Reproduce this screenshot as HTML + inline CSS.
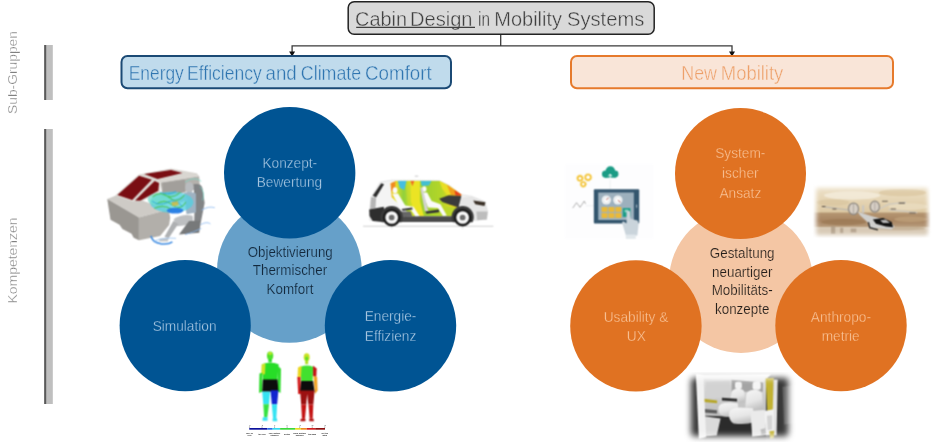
<!DOCTYPE html>
<html lang="de">
<head>
<meta charset="utf-8">
<title>Cabin Design in Mobility Systems</title>
<style>
html,body{margin:0;padding:0;background:#fff;}
body{width:936px;height:442px;overflow:hidden;font-family:"Liberation Sans",sans-serif;}
svg{display:block;position:absolute;left:0;top:0;}
text{font-family:"Liberation Sans",sans-serif;}
svg{opacity:0.999;}
</style>
</head>
<body>
<svg width="936" height="442" viewBox="0 0 936 442">
<defs>
<filter id="soft" x="-5%" y="-5%" width="110%" height="110%"><feGaussianBlur stdDeviation="0.45"/></filter>
<filter id="soft2" x="-5%" y="-5%" width="110%" height="110%"><feGaussianBlur stdDeviation="0.8"/></filter>
<filter id="b3" x="-5%" y="-5%" width="110%" height="110%" color-interpolation-filters="sRGB"><feConvolveMatrix order="3" kernelMatrix="1 2 1 2 4 2 1 2 1" divisor="16" edgeMode="none" preserveAlpha="false"/></filter>
<filter id="b4" x="-5%" y="-5%" width="110%" height="110%" color-interpolation-filters="sRGB"><feConvolveMatrix order="3" kernelMatrix="1 2 1 2 4 2 1 2 1" divisor="16" edgeMode="none" preserveAlpha="false"/><feConvolveMatrix order="3" kernelMatrix="1 2 1 2 4 2 1 2 1" divisor="16" edgeMode="none" preserveAlpha="false"/></filter>
</defs>
<rect width="936" height="442" fill="#ffffff"/>

<!-- side bars -->
<g id="bars">
<rect x="44.2" y="45" width="8.6" height="55" fill="#bfbfbf"/>
<rect x="44.2" y="45" width="2" height="55" fill="#5a5a5a"/>
<rect x="44.2" y="129" width="8.6" height="275" fill="#bfbfbf"/>
<rect x="44.2" y="129" width="2" height="275" fill="#5a5a5a"/>
</g>
<g id="sidelabels" fill="#808080" stroke="#ffffff" stroke-width="0.3" font-size="12.5">
<text transform="translate(17.2,114) rotate(-90)" textLength="83" lengthAdjust="spacingAndGlyphs">Sub-Gruppen</text>
<text transform="translate(17.2,303.5) rotate(-90)" textLength="86" lengthAdjust="spacingAndGlyphs">Kompetenzen</text>
</g>

<!-- connectors -->
<g id="connectors" stroke="#3a3a3a" stroke-width="1.3" fill="none">
<path d="M500.7 35 V45.8 M292.1 53 V45.8 H732 V53"/>
</g>
<path d="M289.1 51.4 h6 l-3 5 z M729 51.4 h6 l-3 5 z" fill="#111"/>

<!-- title -->
<rect x="348.2" y="1.7" width="306" height="32.6" rx="6" fill="#d9d9d9" stroke="#222" stroke-width="1.5"/>
<text x="355.05" y="25.7" font-size="20.5" fill="#3f3f3f" stroke="#d9d9d9" stroke-width="0.4" textLength="51.95" lengthAdjust="spacingAndGlyphs">Cabin</text>
<text x="410.05" y="25.7" font-size="20.5" fill="#3f3f3f" stroke="#d9d9d9" stroke-width="0.4" textLength="62.45" lengthAdjust="spacingAndGlyphs">Design</text>
<text x="478.05" y="25.7" font-size="20.5" fill="#3f3f3f" stroke="#d9d9d9" stroke-width="0.4" textLength="11.95" lengthAdjust="spacingAndGlyphs">in</text>
<text x="494.30" y="25.7" font-size="20.5" fill="#3f3f3f" stroke="#d9d9d9" stroke-width="0.4" textLength="67.70" lengthAdjust="spacingAndGlyphs">Mobility</text>
<text x="567.05" y="25.7" font-size="20.5" fill="#3f3f3f" stroke="#d9d9d9" stroke-width="0.4" textLength="77.20" lengthAdjust="spacingAndGlyphs">Systems</text>
<path d="M356.2 27.3 H475" stroke="#3f3f3f" stroke-width="1.2"/>

<!-- sub groups -->
<rect x="121.5" y="56" width="329.5" height="32.3" rx="6" fill="#c0dbec" stroke="#1b4a75" stroke-width="2"/>
<text x="128.80" y="79.5" font-size="20.3" fill="#2f75b0" stroke="#c0dbec" stroke-width="0.4" textLength="54.95" lengthAdjust="spacingAndGlyphs">Energy</text>
<text x="187.05" y="79.5" font-size="20.3" fill="#2f75b0" stroke="#c0dbec" stroke-width="0.4" textLength="74.70" lengthAdjust="spacingAndGlyphs">Efficiency</text>
<text x="265.55" y="79.5" font-size="20.3" fill="#2f75b0" stroke="#c0dbec" stroke-width="0.4" textLength="31.20" lengthAdjust="spacingAndGlyphs">and</text>
<text x="300.80" y="79.5" font-size="20.3" fill="#2f75b0" stroke="#c0dbec" stroke-width="0.4" textLength="60.45" lengthAdjust="spacingAndGlyphs">Climate</text>
<text x="365.05" y="79.5" font-size="20.3" fill="#2f75b0" stroke="#c0dbec" stroke-width="0.4" textLength="66.70" lengthAdjust="spacingAndGlyphs">Comfort</text>
<rect x="571" y="56" width="322" height="32.3" rx="6" fill="#f9e5d8" stroke="#e67a2c" stroke-width="2"/>
<text x="681.30" y="79.5" font-size="20.3" fill="#eda06a" stroke="#f9e5d8" stroke-width="0.4" textLength="35.70" lengthAdjust="spacingAndGlyphs">New</text>
<text x="720.80" y="79.5" font-size="20.3" fill="#eda06a" stroke="#f9e5d8" stroke-width="0.4" textLength="62.45" lengthAdjust="spacingAndGlyphs">Mobility</text>

<!-- left cluster -->
<g id="leftcluster">
<circle cx="289.4" cy="270.4" r="72.4" fill="#66a0c9"/>
<circle cx="289.7" cy="172.8" r="65.7" fill="#005493"/>
<circle cx="185.2" cy="325.6" r="65.6" fill="#005493"/>
<circle cx="390.5" cy="325.8" r="65.7" fill="#005493"/>
<g font-size="14.6" fill="#a9c8e2" stroke="#005493" stroke-width="0.3" text-anchor="middle">
<text transform="translate(289.8,167.6) scale(0.938,1)">Konzept-</text>
<text transform="translate(289.4,187.3) scale(0.938,1)">Bewertung</text>
<text transform="translate(184.6,330.9) scale(0.938,1)">Simulation</text>
<text transform="translate(390.5,321.2) scale(0.938,1)">Energie-</text>
<text transform="translate(390.5,340.8) scale(0.938,1)">Effizienz</text>
</g>
<g font-size="14.3" fill="#13283c" stroke="#66a0c9" stroke-width="0.2" text-anchor="middle">
<text transform="translate(290.2,257.1) scale(0.93,1)">Objektivierung</text>
<text transform="translate(290,275.4) scale(0.937,1)">Thermischer</text>
<text transform="translate(290,293.8) scale(0.937,1)">Komfort</text>
</g>
</g>

<!-- right cluster -->
<g id="rightcluster">
<circle cx="741" cy="281" r="72" fill="#f4c6a4"/>
<circle cx="740.5" cy="173.5" r="65.5" fill="#e07222"/>
<circle cx="635.9" cy="325.9" r="65.7" fill="#e07222"/>
<circle cx="841" cy="325.6" r="65.7" fill="#e07222"/>
<g font-size="14.6" fill="#f8c49a" stroke="#e07222" stroke-width="0.3" text-anchor="middle">
<text transform="translate(740.3,158.1) scale(0.938,1)">System-</text>
<text transform="translate(740.3,177.8) scale(0.938,1)">ischer</text>
<text transform="translate(740.3,197.5) scale(0.938,1)">Ansatz</text>
<text transform="translate(636,321.5) scale(0.938,1)">Usability &amp;</text>
<text transform="translate(636.3,340.8) scale(0.938,1)">UX</text>
<text transform="translate(840.9,321.5) scale(0.938,1)">Anthropo-</text>
<text transform="translate(840.7,340.8) scale(0.938,1)">metrie</text>
</g>
<g font-size="14.3" fill="#241e1a" stroke="#f4c6a4" stroke-width="0.2" text-anchor="middle">
<text transform="translate(742.2,258.1) scale(0.937,1)">Gestaltung</text>
<text transform="translate(742.2,276.8) scale(0.937,1)">neuartiger</text>
<text transform="translate(742.2,295.1) scale(0.937,1)">Mobilitäts-</text>
<text transform="translate(742.2,313.6) scale(0.937,1)">konzepte</text>
</g>
</g>

<!-- image: cabin simulation -->
<g id="cabinsim" transform="translate(100,165) scale(0.181)" filter="url(#b3)">
<!-- roof frame -->
<path d="M214,52 L392,20 L535,46 L548,62 L335,96 L296,82 Z" fill="#d9d6d1"/>
<path d="M244,50 L392,28 L456,44 L318,78 Z" fill="#7a0e13"/>
<!-- rear wall / interior -->
<path d="M335,96 L548,62 L552,130 L345,175 Z" fill="#b4b1ac"/>
<path d="M345,100 L470,82 L470,150 L350,172 Z" fill="#a29f9b"/>
<!-- windshield -->
<path d="M84,168 L214,52 L300,80 L336,98 L330,150 L222,204 L176,200 Z" fill="#dcd9d4"/>
<path d="M96,166 L216,60 L286,82 L178,194 Z" fill="#7a0e13"/>
<path d="M302,88 L326,100 L322,142 L222,198 L194,196 Z" fill="#7a0e13"/>
<!-- seat -->
<path d="M516,106 Q560,98 566,128 L578,210 L558,312 L520,320 L524,200 Z" fill="#828486"/>

<!-- hood -->
<path d="M40,188 L88,168 L180,200 L236,198 L380,246 L215,290 Z" fill="#cecbc6"/>
<path d="M40,188 L215,290 L215,416 L186,402 L174,380 L124,354 L108,330 L58,302 Z" fill="#9a9792"/>
<path d="M215,290 L380,246 L388,292 L382,332 L332,392 L215,416 Z" fill="#b2afaa"/>
<!-- mannequin -->
<ellipse cx="494" cy="124" rx="23" ry="30" fill="#b9bcbf"/>
<path d="M464,154 Q496,144 530,158 L530,262 L478,272 Z" fill="#9fb2c2"/>
<path d="M470,162 L396,200 L406,218 L486,194 Z" fill="#bcc2c6"/>
<path d="M406,300 Q456,268 512,280 L516,328 L428,338 Z" fill="#bdbfc1"/>
<path d="M436,384 L492,310 L558,308 L548,374 Z" fill="#77797a"/>
<path d="M406,308 L432,326 L380,404 L356,398 Z" fill="#aeb0b2"/>
<path d="M328,407 L380,402 L375,422 L328,422 Z" fill="#c4c6c8"/>
<!-- flow -->
<ellipse cx="396" cy="206" rx="120" ry="58" fill="#52cfe0" opacity="0.78"/>
<ellipse cx="330" cy="190" rx="66" ry="36" fill="#6cdcc8" opacity="0.7"/>
<path d="M290,176 Q336,140 380,178 T466,166 M312,216 Q356,184 400,220 T474,204 M346,160 Q400,194 444,150 M300,240 Q350,214 396,246" fill="none" stroke="#4cc45c" stroke-width="6" opacity="0.9"/>
<path d="M288,200 Q330,230 372,206 T456,230 M330,150 Q372,170 420,146" fill="none" stroke="#24a2dc" stroke-width="5" opacity="0.85"/>
<ellipse cx="415" cy="252" rx="46" ry="16" fill="#2478e4" opacity="0.9"/>
<path d="M395,205 L430,200 L436,222 L400,228 Z" fill="#d2bb3e" opacity="0.85"/>
<path d="M470,95 Q520,60 560,90 M552,120 Q584,150 566,196" fill="none" stroke="#6edcc8" stroke-width="4" opacity="0.85"/>
<!-- streams -->
<path d="M282,392 Q286,428 340,436 Q380,440 400,425" fill="none" stroke="#3586e0" stroke-width="8" opacity="0.95"/>
<path d="M300,420 Q350,400 420,405" fill="none" stroke="#94c0f0" stroke-width="5" opacity="0.85"/>
<path d="M560,250 Q600,225 634,236 M555,330 Q590,310 610,325 M470,385 Q520,370 560,350" fill="none" stroke="#86b6f0" stroke-width="5" opacity="0.85"/>
</g>
<!-- image: car thermal -->
<g id="carthermal" transform="translate(360,170) scale(0.15838)" filter="url(#b3)">
<defs>
<linearGradient id="thg" x1="0" y1="0" x2="1" y2="0">
<stop offset="0" stop-color="#f0a020"/><stop offset="0.08" stop-color="#e6e028"/><stop offset="0.2" stop-color="#8fd03c"/><stop offset="0.33" stop-color="#e4e224"/><stop offset="0.45" stop-color="#9ccf30"/><stop offset="0.7" stop-color="#b4d628"/><stop offset="0.85" stop-color="#e8d820"/><stop offset="1" stop-color="#f08020"/>
</linearGradient>
<clipPath id="thclip"><path d="M192,84 L232,68 L500,68 L560,98 L642,156 L622,182 L612,240 L592,292 L330,292 L252,222 L200,172 Z"/></clipPath>
</defs>
<!-- body -->
<path d="M62,250 L70,172 L128,76 L200,64 L500,66 L565,98 L642,156 L705,166 L790,200 L806,262 L800,312 L62,318 Z" fill="#f4f4f4" stroke="#cfcfcf" stroke-width="3"/>
<path d="M620,175 L705,166 L790,200 L806,262 L800,312 L720,322 L640,250 Z" fill="#e6e6e6"/>
<path d="M735,262 L806,262 L800,312 L740,318 Z" fill="#bdbdbd"/>
<path d="M715,192 L792,204 L786,228 L728,216 Z" fill="#3a3026"/>
<!-- rear -->
<path d="M80,162 L134,84 L152,90 L102,172 Z" fill="#2c2c2c"/>
<path d="M70,172 L102,172 L98,240 L64,250 Z" fill="#b5b5b5"/>
<path d="M58,250 L150,232 L160,330 L80,322 L60,290 Z" fill="#2e2e2e"/>
<!-- thermal cabin -->
<g clip-path="url(#thclip)">
<rect x="180" y="60" width="480" height="240" fill="url(#thg)"/>
<path d="M302,60 L378,60 L378,195 L404,292 L346,292 L320,195 Z" fill="#ebe424"/>
<path d="M286,60 L320,60 L322,200 L346,292 L330,292 L300,200 Z" fill="#c6dc2c" opacity="0.8"/>
<path d="M236,60 L296,60 L280,126 L252,114 Z" fill="#45bfe0"/>
<path d="M380,60 L456,60 L436,98 L390,101 Z" fill="#43bfd2"/>
<path d="M316,60 L346,60 L331,102 Z" fill="#ee6a22"/>
<path d="M190,86 L230,66 L222,120 L196,134 Z" fill="#f08a20"/>
<path d="M222,70 L238,66 L240,150 L224,136 Z" fill="#e8dc28" opacity="0.8"/>
<path d="M500,66 L560,98 L650,160 L560,170 L520,120 Z" fill="#e9df24"/>
<path d="M548,92 L650,160 L575,160 Z" fill="#f2a01c"/>
<path d="M596,126 L650,160 L604,162 Z" fill="#e8401c"/>
<path d="M540,230 L612,236 L592,292 L520,292 Z" fill="#bcd72c"/>
</g>
<!-- sill and arches -->
<path d="M250,292 L600,292 L600,328 L250,328 Z" fill="#4a4a4a"/>
<path d="M255,262 L320,262 L330,292 L255,300 Z" fill="#666"/>
<circle cx="200" cy="298" r="70" fill="#3a3a3a"/>
<circle cx="648" cy="298" r="70" fill="#3a3a3a"/>
<rect x="120" y="330" width="620" height="40" fill="#fff"/>
<line x1="20" y1="355" x2="842" y2="355" stroke="#9a9a9a" stroke-width="3"/>
<!-- dashboard -->
<path d="M500,182 L560,160 L640,164 L622,236 L560,216 L520,202 Z" fill="#3b3b3b"/>
<!-- passengers / seats -->
<ellipse cx="221" cy="128" rx="15" ry="19" fill="#fafafa"/>
<path d="M204,150 L240,148 L286,224 L338,232 L376,290 L350,292 L322,252 L258,250 Z" fill="#fafafa"/>
<path d="M262,246 L330,236 L332,250 L270,258 Z" fill="#333"/>
<ellipse cx="406" cy="120" rx="14" ry="17" fill="#fafafa"/>
<path d="M392,142 L424,142 L452,196 L508,216 L548,288 L524,290 L492,240 L430,236 Z" fill="#fafafa"/>
<path d="M380,110 L394,112 L432,262 L410,262 Z" fill="#d2d2d2"/>
<path d="M412,262 L498,250 L500,266 L420,276 Z" fill="#333"/>
<!-- wheels -->
<circle cx="200" cy="300" r="56" fill="#1c1c1c"/>
<circle cx="200" cy="300" r="40" fill="#f6f6f6"/>
<circle cx="200" cy="300" r="18" fill="#6c6c6c"/>
<circle cx="648" cy="300" r="56" fill="#1c1c1c"/>
<circle cx="648" cy="300" r="40" fill="#f6f6f6"/>
<circle cx="648" cy="300" r="18" fill="#6c6c6c"/>
<rect x="346" y="36" width="22" height="5" fill="#bbb"/>
</g>

<!-- image: thermal mannequins -->
<g id="mannequins" transform="translate(245,348) scale(0.21277)">
<g filter="url(#b3)">
<!-- figure 1 -->
<ellipse cx="118" cy="37" rx="15" ry="20" fill="#4fe22c"/>
<ellipse cx="118" cy="26" rx="10" ry="7" fill="#b8e626"/>
<rect x="110" y="52" width="16" height="16" fill="#2fdc2c"/>
<path d="M80,76 Q118,62 158,76 L152,150 L85,150 Z" fill="#27dd27"/>
<path d="M78,78 L96,72 L94,122 L76,128 Z" fill="#cfe224"/>
<path d="M68,120 L82,116 L82,204 L66,212 Z" fill="#2fdc2c"/>
<path d="M154,84 L169,98 L167,212 L153,202 Z" fill="#2fdc2c"/>
<path d="M84,148 L153,148 L157,206 L81,206 Z" fill="#0c0c0c"/>
<path d="M81,205 L118,205 L113,264 L86,264 Z" fill="#35e3f2"/>
<path d="M120,198 L157,198 L151,264 L126,264 Z" fill="#1224cf"/>
<path d="M86,264 L113,264 L105,326 L90,326 Z" fill="#36e242"/>
<path d="M126,264 L151,264 L147,332 L132,332 Z" fill="#35e3f2"/>
<path d="M84,326 L106,326 L106,342 L82,342 Z M130,330 L150,330 L152,344 L130,344 Z" fill="#35e3f2"/>
<!-- figure 2 -->
<ellipse cx="290" cy="44" rx="14" ry="19" fill="#c9e222"/>
<ellipse cx="290" cy="50" rx="7" ry="10" fill="#58de2c"/>
<rect x="283" y="60" width="14" height="16" fill="#b0e024"/>
<path d="M262,88 Q290,76 320,88 L318,156 L264,156 Z" fill="#43e02f"/>
<path d="M249,92 L266,84 L263,136 L247,138 Z" fill="#ead720"/>
<path d="M320,84 L337,96 L335,136 L320,132 Z" fill="#c21212"/>
<path d="M246,136 L261,136 L263,216 L250,216 Z" fill="#d41a1a"/>
<path d="M322,130 L339,136 L341,200 L329,216 Z" fill="#f2a222"/>
<path d="M264,155 L320,155 L327,206 L259,206 Z" fill="#0c0c0c"/>
<path d="M259,200 L327,200 L321,266 L298,266 L292,216 L288,266 L264,266 Z" fill="#9c1010"/>
<path d="M264,266 L288,266 L282,332 L268,332 Z M298,266 L321,266 L318,332 L304,332 Z" fill="#c41414"/>
<path d="M262,332 L284,332 L284,344 L260,344 Z M302,332 L322,332 L324,344 L302,344 Z" fill="#b01212"/>
</g>
<!-- colour bar -->
<g>
<rect x="20" y="376" width="85" height="8" fill="#0c129c"/>
<rect x="105" y="376" width="25" height="8" fill="#2a6ee8"/>
<rect x="130" y="376" width="35" height="8" fill="#34d8ee"/>
<rect x="165" y="376" width="70" height="8" fill="#3cd83c"/>
<rect x="235" y="376" width="28" height="8" fill="#e6dc22"/>
<rect x="263" y="376" width="27" height="8" fill="#ee8a20"/>
<rect x="290" y="376" width="40" height="8" fill="#d42020"/>
<rect x="330" y="376" width="46" height="8" fill="#8c1010"/>
<path d="M21,368 v8 M80,368 v8 M139,368 v8 M198,368 v8 M257,368 v8 M316,368 v8 M375,368 v8" stroke="#555" stroke-width="2" fill="none"/>
</g>
<g font-size="9" fill="#333" text-anchor="middle">
<text x="21" y="366">-3</text><text x="80" y="366">-2</text><text x="139" y="366">-1</text><text x="198" y="366">0</text><text x="257" y="366">+1</text><text x="316" y="366">+2</text><text x="375" y="366">+3</text>
</g>
<g font-size="8.5" fill="#222" font-weight="bold" text-anchor="middle">
<text x="21" y="403">cold, no</text><text x="21" y="412">cold</text>
<text x="80" y="408">too cold</text>
<text x="139" y="403">cold, partially</text><text x="139" y="412">damaged</text>
<text x="198" y="408">neutral</text>
<text x="257" y="403">warm, partially</text><text x="257" y="412">damaged</text>
<text x="316" y="408">too warm</text>
<text x="375" y="403">hot, too</text><text x="375" y="412">warm</text>
</g>
</g>

<!-- image: dashboard / tablet icon -->
<g id="tableticon" transform="translate(565,160) scale(0.19231)" filter="url(#b3)">
<rect x="0" y="24" width="462" height="384" fill="#fdfdfe"/>
<path d="M235,96 V152 M108,238 H150" stroke="#e3e6ea" stroke-width="3" fill="none"/>
<!-- cloud -->
<g fill="#1b9c85">
<circle cx="211" cy="73" r="19"/><circle cx="236" cy="58" r="25"/><circle cx="260" cy="73" r="18"/>
<rect x="208" y="70" width="56" height="22"/>
</g>
<path d="M235,74 V104 M226,84 L235,73 L244,84" stroke="#ffffff" stroke-width="5" fill="none"/>
<!-- gears -->
<g fill="none" stroke="#f2bc1c" stroke-width="7">
<circle cx="78" cy="95" r="12"/><circle cx="120" cy="90" r="14"/><circle cx="95" cy="126" r="11"/>
</g>
<g fill="none" stroke="#f2bc1c" stroke-width="4" stroke-dasharray="5 5" opacity="0.8">
<circle cx="78" cy="95" r="18"/><circle cx="120" cy="90" r="20"/><circle cx="95" cy="126" r="17"/>
</g>
<!-- zigzag -->
<path d="M40,250 L60,222 L78,246 L100,214 L107,228" fill="none" stroke="#8c8c8c" stroke-width="3.5"/>
<!-- tablet -->
<rect x="150" y="152" width="236" height="178" rx="5" fill="#34566e"/>
<rect x="173" y="169" width="185" height="143" fill="#9db0bd"/>
<rect x="370" y="232" width="5" height="16" fill="#b8c6d0"/>
<circle cx="215" cy="208" r="24" fill="#fbfbfb"/>
<circle cx="275" cy="208" r="24" fill="#fbfbfb"/>
<path d="M215,208 L228,194 M275,208 L290,222" stroke="#b0463c" stroke-width="4"/>
<circle cx="215" cy="208" r="17" fill="none" stroke="#c9d2d8" stroke-width="3"/>
<circle cx="275" cy="208" r="17" fill="none" stroke="#c9d2d8" stroke-width="3"/>
<g fill="#e9b93a">
<rect x="190" y="244" width="31" height="26" rx="3"/><rect x="226" y="244" width="31" height="26" rx="3"/><rect x="262" y="244" width="31" height="26" rx="3"/>
<rect x="190" y="275" width="31" height="26" rx="3"/><rect x="226" y="275" width="31" height="26" rx="3"/><rect x="262" y="275" width="31" height="26" rx="3"/>
</g>
<rect x="300" y="250" width="40" height="46" fill="#1b9c85"/>
<rect x="310" y="258" width="20" height="14" fill="#8fd4c4"/>
<!-- hand -->
<path d="M320,268 Q330,260 338,268 L340,306 L376,314 Q384,318 382,340 L376,392 L318,396 L298,330 Q294,318 306,320 L320,332 Z" fill="#cad4db"/>
<rect x="316" y="388" width="52" height="22" fill="#e2e8ec"/>
</g>

<!-- image: air taxi -->
<g id="airtaxi" transform="translate(810,180) scale(0.14031)">
<defs>
<filter id="b8" x="-10%" y="-10%" width="120%" height="120%"><feGaussianBlur stdDeviation="17"/></filter>
<mask id="m5"><rect x="44" y="56" width="796" height="338" rx="12" fill="#fff" filter="url(#b8)"/></mask>
<linearGradient id="sky5" x1="0" y1="0" x2="0" y2="1">
<stop offset="0" stop-color="#efe5d0"/><stop offset="0.5" stop-color="#e6d6b6"/><stop offset="1" stop-color="#dcc8a2"/>
</linearGradient>
<linearGradient id="gr5" x1="0" y1="0" x2="0" y2="1">
<stop offset="0" stop-color="#b59672"/><stop offset="0.55" stop-color="#a78461"/><stop offset="1" stop-color="#b89c7c"/>
</linearGradient>
</defs>
<g mask="url(#m5)">
<g filter="url(#b3)">
<rect x="20" y="30" width="840" height="205" fill="url(#sky5)"/>
<ellipse cx="300" cy="110" rx="200" ry="30" fill="#f4ecdc" opacity="0.8"/>
<ellipse cx="660" cy="90" rx="170" ry="26" fill="#dcc8a2" opacity="0.8"/>
<ellipse cx="160" cy="160" rx="120" ry="22" fill="#d9c49e" opacity="0.7"/>
<ellipse cx="700" cy="190" rx="140" ry="24" fill="#eadcc0" opacity="0.8"/>
<rect x="20" y="232" width="840" height="105" fill="url(#gr5)"/>
<ellipse cx="240" cy="300" rx="160" ry="22" fill="#9a7852" opacity="0.7"/>
<ellipse cx="720" cy="280" rx="120" ry="20" fill="#c0a27c" opacity="0.7"/>
<rect x="20" y="334" width="840" height="80" fill="#d8cab6"/>
<path d="M150,330 h30 v55 h-30z M215,340 h22 v40 h-22z M290,345 h40 v30 h-40z" fill="#a89680" opacity="0.7"/>
<ellipse cx="640" cy="345" rx="180" ry="14" fill="#bfa98c" opacity="0.7"/>
<!-- drone -->
<path d="M92,190 L292,216" stroke="#bdb8ae" stroke-width="9" fill="none"/>
<path d="M84,185 h26 v7 h-26z M160,203 h28 v8 h-28z" fill="#5c5146"/>
<path d="M480,214 L562,172 L684,160 M560,212 L764,232" stroke="#cfcac0" stroke-width="9" fill="none"/>
<path d="M514,147 h40 v8 h-40z M632,161 h44 v8 h-44z M576,203 h36 v8 h-36z M708,231 h46 v8 h-46z" fill="#6a5f52"/>
<ellipse cx="310" cy="205" rx="36" ry="41" fill="#d6cec4" stroke="#8e8880" stroke-width="9"/>
<ellipse cx="462" cy="190" rx="33" ry="39" fill="#d6cec4" stroke="#8e8880" stroke-width="9"/>
<path d="M310,166 V246 M462,152 V228" stroke="#a49e96" stroke-width="5"/>
<path d="M372,180 h14 v54 h-14z" fill="#c8c6c2"/>
<path d="M340,226 L442,258 L560,290 L602,332 L582,352 L432,340 L408,300 L356,252 Z" fill="#cfcfcd"/>
<path d="M448,282 L522,270 L582,300 L592,336 L540,332 L470,312 Z" fill="#121212"/>
<path d="M500,286 L540,282 L570,306 L520,306 Z" fill="#e8e8e8" opacity="0.75"/>
<path d="M416,300 L426,340 L484,356" stroke="#1e1e1e" stroke-width="9" fill="none"/>
</g>
</g>
</g>

<!-- image: vehicle interior -->
<g id="interior" transform="translate(680,366) scale(0.17191)">
<defs>
<filter id="b9" x="-10%" y="-10%" width="120%" height="120%"><feGaussianBlur stdDeviation="20"/></filter>
<mask id="m6"><rect x="64" y="70" width="566" height="338" rx="20" fill="#fff" filter="url(#b9)"/></mask>
<linearGradient id="wall6" x1="0" y1="0" x2="0" y2="1"><stop offset="0" stop-color="#e4e4e4"/><stop offset="1" stop-color="#b8b8b8"/></linearGradient>
<linearGradient id="seat6" x1="0" y1="0" x2="0.3" y2="1"><stop offset="0" stop-color="#f6f6f6"/><stop offset="0.6" stop-color="#e6e6e6"/><stop offset="1" stop-color="#c2c2c2"/></linearGradient>
</defs>
<g mask="url(#m6)">
<g filter="url(#b3)">
<rect x="20" y="30" width="660" height="420" fill="#424242"/>
<rect x="20" y="30" width="80" height="420" fill="#383838"/>
<path d="M560,40 L680,40 L680,450 L555,450 Z" fill="#383838"/>
<path d="M596,120 L680,110 L680,330 L606,340 Z" fill="#585858"/>
<!-- back wall + ceiling -->
<path d="M130,60 L500,56 L500,300 L130,300 Z" fill="url(#wall6)"/>
<path d="M130,50 L530,46 L482,96 L300,78 L130,72 Z" fill="#ededed"/>
<path d="M150,92 L290,86 L300,180 L150,190 Z" fill="#d2d2d2"/>
<path d="M300,80 L482,96 L482,150 L300,150 Z" fill="#a4a4a4"/>
<!-- floor -->
<path d="M140,290 L500,300 L500,450 L140,450 Z" fill="#2b2b2b"/>
<path d="M140,292 L236,306 L214,404 L140,410 Z" fill="#dadada"/>
<path d="M140,250 L215,258 L215,276 L140,270 Z" fill="#5c5c5c"/>
<path d="M138,190 L216,200 L216,216 L138,210 Z" fill="#b7a72a"/>
<!-- left pillar -->
<path d="M92,44 L136,50 L152,414 L110,424 Z" fill="#f1f1f1"/>
<!-- rear seat -->
<rect x="320" y="92" width="40" height="42" rx="12" fill="#f2f2f2"/>
<path d="M302,150 Q304,134 336,132 Q370,132 374,150 L380,216 L286,220 Z" fill="url(#seat6)"/>
<path d="M224,240 Q230,214 284,214 L336,216 L344,286 Q300,300 250,292 Q220,280 224,240 Z" fill="url(#seat6)"/>
<path d="M244,184 L332,190 L332,206 L244,200 Z" fill="#2c2c2c"/>
<!-- front seat -->
<rect x="422" y="92" width="48" height="46" rx="13" fill="#f5f5f5"/>
<path d="M386,166 Q390,142 430,138 Q470,138 476,160 L484,246 L378,264 Z" fill="url(#seat6)"/>
<path d="M286,272 Q292,244 350,242 L424,246 L434,326 Q380,344 312,334 Q280,316 286,272 Z" fill="url(#seat6)"/>
<!-- right panel / door / pillar -->
<path d="M410,262 L492,256 L502,402 L420,412 Z" fill="#eaeaea"/>
<path d="M498,70 L546,68 L542,262 L508,264 Z" fill="#c2b232"/>
<path d="M544,78 L568,78 L562,404 L536,404 Z" fill="#e2e2e2"/>
<path d="M490,262 L546,252 L546,402 L500,404 Z" fill="#f1f1f1"/>
<path d="M506,290 L536,286 L536,370 L510,372 Z" fill="#d4d4d4"/>
<path d="M520,380 L548,376 L546,420 L524,424 Z" fill="#c2b232"/>
<path d="M468,370 L496,360 L500,396 L474,402 Z" fill="#bdbdbd"/>
</g>
</g>
</g>
<!--IMAGES-->
</svg>
</body>
</html>
